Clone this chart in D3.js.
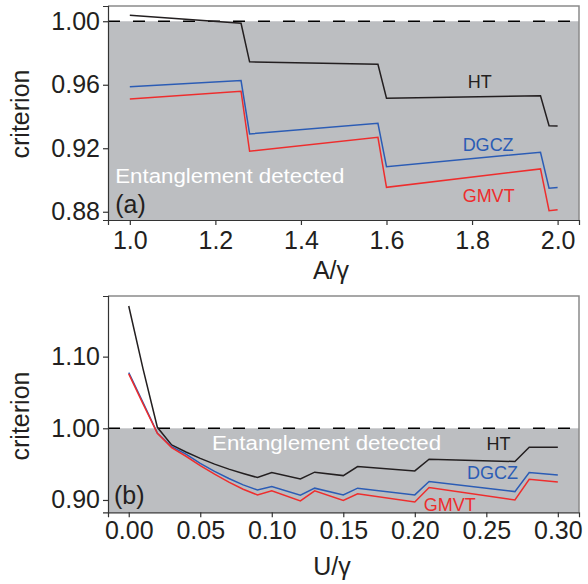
<!DOCTYPE html>
<html>
<head>
<meta charset="utf-8">
<script src="https://cdn.jsdelivr.net/npm/d3@7"></script>
<style>
  body { margin: 0; background: #fff; }
  svg { display: block; }
</style>
</head>
<body>
<div id="chart"></div>
<script>
// panel (a): criterion vs A/gamma
var aX = [1.00, 1.26, 1.28, 1.58, 1.60, 1.96, 1.98, 2.00];
var aHT = [1.0038, 0.9987, 0.9744, 0.9729, 0.9515, 0.9530, 0.9342, 0.9340];
var aDGCZ = [0.9588, 0.9626, 0.9290, 0.9357, 0.9084, 0.9175, 0.8948, 0.8952];
var aGMVT = [0.9510, 0.9559, 0.9181, 0.9269, 0.8954, 0.9070, 0.8807, 0.8813];
var aXTicks = [1.0, 1.2, 1.4, 1.6, 1.8, 2.0];
var aYTicks = [0.88, 0.92, 0.96, 1.00];

// panel (b): criterion vs U/gamma
var bX = [0, 0.01, 0.02, 0.03, 0.04, 0.05, 0.06, 0.07, 0.08, 0.09, 0.10, 0.12, 0.13, 0.15, 0.16, 0.20, 0.21, 0.27, 0.28, 0.30];
var bHT = [1.1707, 1.083, 1.0014, 0.9768, 0.967, 0.958, 0.950, 0.943, 0.937, 0.9313, 0.9382, 0.9294, 0.9388, 0.934, 0.9466, 0.9406, 0.9569, 0.9536, 0.9737, 0.9737];
var bDGCZ = [1.0777, 1.036, 0.9932, 0.9745, 0.964, 0.951, 0.940, 0.930, 0.921, 0.914, 0.9187, 0.9067, 0.9165, 0.9071, 0.9165, 0.9071, 0.9257, 0.9117, 0.9382, 0.935];
var bGMVT = [1.076, 1.034, 0.993, 0.973, 0.961, 0.948, 0.936, 0.925, 0.915, 0.907, 0.9127, 0.8987, 0.9127, 0.8992, 0.9085, 0.8973, 0.9173, 0.900, 0.9289, 0.9252];
var bXTicks = [0, 0.05, 0.10, 0.15, 0.20, 0.25, 0.30];
var bYTicks = [0.90, 1.00, 1.10];

var seriesNames = ["HT", "DGCZ", "GMVT"];
var seriesColor = { HT: "#231f20", DGCZ: "#2b5cb5", GMVT: "#ee2d2d" };
var threshold = 1.0;

var width = 588, height = 584;
var svg = d3.select("#chart").append("svg")
    .attr("width", width)
    .attr("height", height)
    .style("font-family", "'Liberation Sans', Arial, sans-serif");

function panel(opt) {
    var x = d3.scaleLinear().domain(opt.xDomain).range([108, 579]);
    var y = d3.scaleLinear().domain(opt.yDomain).range([opt.bottom, opt.top]);
    var g = svg.append("g");

    // shaded region below criterion = 1
    g.append("rect")
        .attr("x", 108)
        .attr("y", y(threshold))
        .attr("width", 471)
        .attr("height", opt.bottom - y(threshold))
        .style("fill", "#bcbec1");

    g.append("line")
        .attr("x1", 108).attr("x2", 579)
        .attr("y1", y(threshold)).attr("y2", y(threshold))
        .style("stroke", "#000")
        .style("stroke-width", 1.6)
        .style("stroke-dasharray", "12,13");

    var line = d3.line()
        .x(function(d) { return x(d[0]); })
        .y(function(d) { return y(d[1]); });

    seriesNames.forEach(function(name) {
        var pts = opt.xs.map(function(v, i) { return [v, opt.series[name][i]]; });
        g.append("path")
            .datum(pts)
            .attr("d", line)
            .style("fill", "none")
            .style("stroke", seriesColor[name])
            .style("stroke-width", 1.5)
            .style("stroke-linejoin", "miter");
    });

    // frame: light top/right, dark left/bottom
    g.append("path")
        .attr("d", "M108," + opt.top + "H579V" + opt.bottom)
        .style("fill", "none")
        .style("stroke", "#8a8a8a")
        .style("stroke-width", 1.5);

    var xAxis = g.append("g")
        .attr("transform", "translate(0," + opt.bottom + ")")
        .call(d3.axisBottom(x).tickValues(opt.xTicks).tickFormat(d3.format(opt.xFormat))
            .tickSize(5).tickPadding(opt.xPad));
    var yAxis = g.append("g")
        .attr("transform", "translate(108,0)")
        .call(d3.axisLeft(y).tickValues(opt.yTicks).tickFormat(d3.format(".2f"))
            .tickSize(5).tickPadding(3));

    [xAxis, yAxis].forEach(function(ax) {
        ax.select(".domain").style("stroke", "#333").style("stroke-width", 1.2);
        ax.selectAll(".tick line").style("stroke", "#333").style("stroke-width", 1.2);
        ax.selectAll("text")
            .style("font-size", "25px")
            .style("fill", "#231f20")
            .style("font-family", "'Liberation Sans', Arial, sans-serif");
    });

    g.append("text")
        .attr("transform", "rotate(-90)")
        .attr("x", -opt.yLabelMid)
        .attr("y", 29)
        .attr("text-anchor", "middle")
        .style("font-size", "25px")
        .style("fill", "#231f20")
        .text("criterion");

    g.append("text")
        .attr("x", opt.xLabelX)
        .attr("y", opt.xLabelY)
        .attr("text-anchor", "middle")
        .style("font-size", "25px")
        .style("fill", "#231f20")
        .text(opt.xLabel);

    g.append("text")
        .attr("x", x(opt.shadeLabel[0]))
        .attr("y", y(opt.shadeLabel[1]))
        .attr("textLength", 229)
        .attr("lengthAdjust", "spacingAndGlyphs")
        .style("font-size", "20px")
        .style("fill", "#fff")
        .text("Entanglement detected");

    g.append("text")
        .attr("x", x(opt.panelLabel[0]))
        .attr("y", y(opt.panelLabel[1]))
        .style("font-size", "25px")
        .style("fill", "#231f20")
        .text(opt.panelName);

    seriesNames.forEach(function(name) {
        var p = opt.labels[name];
        g.append("text")
            .attr("x", x(p[0]))
            .attr("y", y(p[1]))
            .style("font-size", "18px")
            .style("fill", seriesColor[name])
            .text(name);
    });
}

panel({
    xDomain: [0.949, 2.050], yDomain: [0.8748, 1.0096],
    top: 6, bottom: 220,
    xs: aX, series: { HT: aHT, DGCZ: aDGCZ, GMVT: aGMVT },
    xTicks: aXTicks, yTicks: aYTicks, xFormat: ".1f", xPad: 6,
    xLabel: "A/\u03b3", xLabelX: 331, xLabelY: 279, yLabelMid: 114,
    shadeLabel: [0.966, 0.8981], panelLabel: [0.966, 0.879], panelName: "(a)",
    labels: { HT: [1.790, 0.9578], DGCZ: [1.778, 0.9183], GMVT: [1.778, 0.8864] }
});

panel({
    xDomain: [-0.0145, 0.3148], yDomain: [0.8828, 1.1846],
    top: 296, bottom: 512.3,
    xs: bX, series: { HT: bHT, DGCZ: bDGCZ, GMVT: bGMVT },
    xTicks: bXTicks, yTicks: bYTicks, xFormat: ".2f", xPad: 4,
    xLabel: "U/\u03b3", xLabelX: 332, xLabelY: 575, yLabelMid: 416,
    shadeLabel: [0.0583, 0.9703], panelLabel: [-0.0103, 0.895], panelName: "(b)",
    labels: { HT: [0.2502, 0.9699], DGCZ: [0.2365, 0.9294], GMVT: [0.2062, 0.8842] }
});
</script>
</body>
</html>
